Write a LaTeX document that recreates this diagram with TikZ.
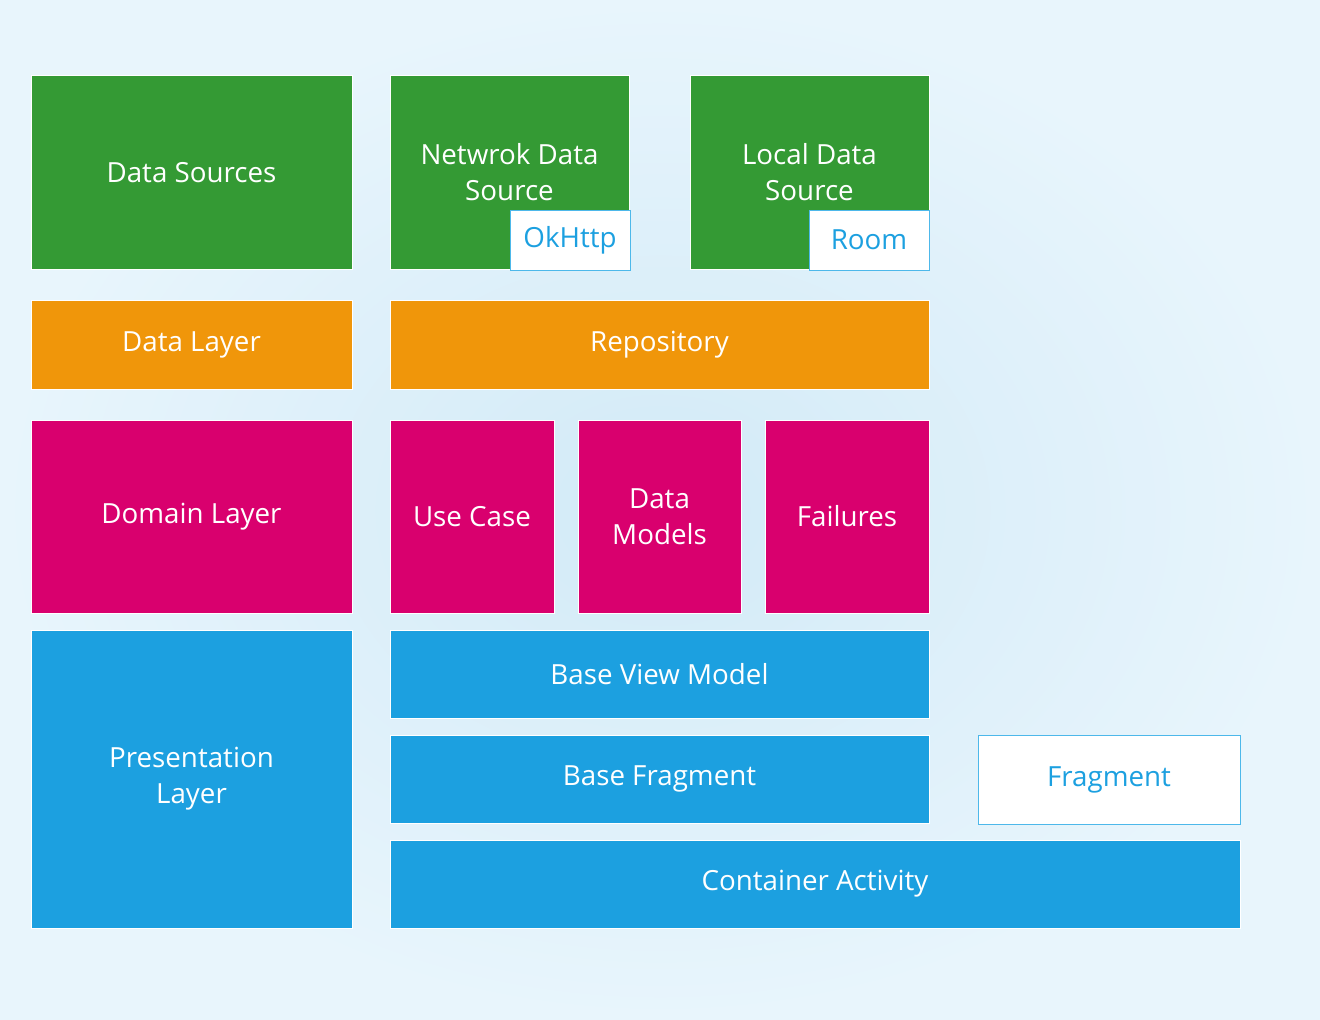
\documentclass[tikz,border=0pt]{standalone}
\usepackage{fontspec}
\setmainfont{Open Sans}
\definecolor{srcgreen}{RGB}{52,154,52}
\definecolor{dataorange}{RGB}{240,150,10}
\definecolor{domainpink}{RGB}{217,0,110}
\definecolor{viewblue}{RGB}{28,160,224}
\definecolor{tagline}{RGB}{77,184,234}
\definecolor{bgmid}{RGB}{210,234,247}
\definecolor{bgedge}{RGB}{232,245,252}
\tikzset{
  blk/.style={draw=white, line width=0.75pt, text=white, inner sep=0pt, outer sep=0pt,
    anchor=north west, align=center, font=\fontsize{20.8}{27}\selectfont},
  sz/.style 2 args={minimum width=#1*0.75pt, minimum height=#2*0.75pt},
  tag/.style={blk, fill=white, draw=tagline, text=viewblue},
}
\begin{document}
\begin{tikzpicture}[x=0.75pt,y=0.75pt,yscale=-1,xscale=1]
\useasboundingbox (0,0) rectangle (1320,1020);
%background
\shade [inner color=bgmid, outer color=bgedge] (0,0) rectangle (1320,1020);

%Data sources row
\node [blk, fill=srcgreen, sz={321}{193}] (dsrc) at (31,76) {Data Sources};
\node [blk, fill=srcgreen, sz={239}{193}] (netsrc) at (390,76) {Netwrok Data\\Source};
\node [tag, sz={120}{60}] (okhttp) at (510,210) {OkHttp};
\node [blk, fill=srcgreen, sz={239}{193}] (locsrc) at (690,76) {Local Data\\Source};
\node [tag, sz={120}{60}] (room) at (809,210) {Room};

%Data layer row
\node [blk, fill=dataorange, sz={321}{89}] (datalayer) at (31,300) {Data Layer};
\node [blk, fill=dataorange, sz={539}{89}] (repo) at (390,300) {Repository};

%Domain layer row
\node [blk, fill=domainpink, sz={321}{193}] (domain) at (31,420) {Domain Layer};
\node [blk, fill=domainpink, sz={164}{193}] (usecase) at (390,420) {Use Case};
\node [blk, fill=domainpink, sz={163}{193}] (models) at (578,420) {Data\\Models};
\node [blk, fill=domainpink, sz={164}{193}] (fail) at (765,420) {Failures};

%Presentation layer
\node [blk, fill=viewblue, sz={321}{298}] (present) at (31,630) {Presentation\\Layer};
\node [blk, fill=viewblue, sz={539}{88}] (basevm) at (390,630) {Base View Model};
\node [blk, fill=viewblue, sz={539}{88}] (basefrag) at (390,735) {Base Fragment};
\node [tag, sz={262}{89}] (frag) at (978,735) {Fragment};
\node [blk, fill=viewblue, sz={850}{88}] (container) at (390,840) {Container Activity};

\end{tikzpicture}
\end{document}
